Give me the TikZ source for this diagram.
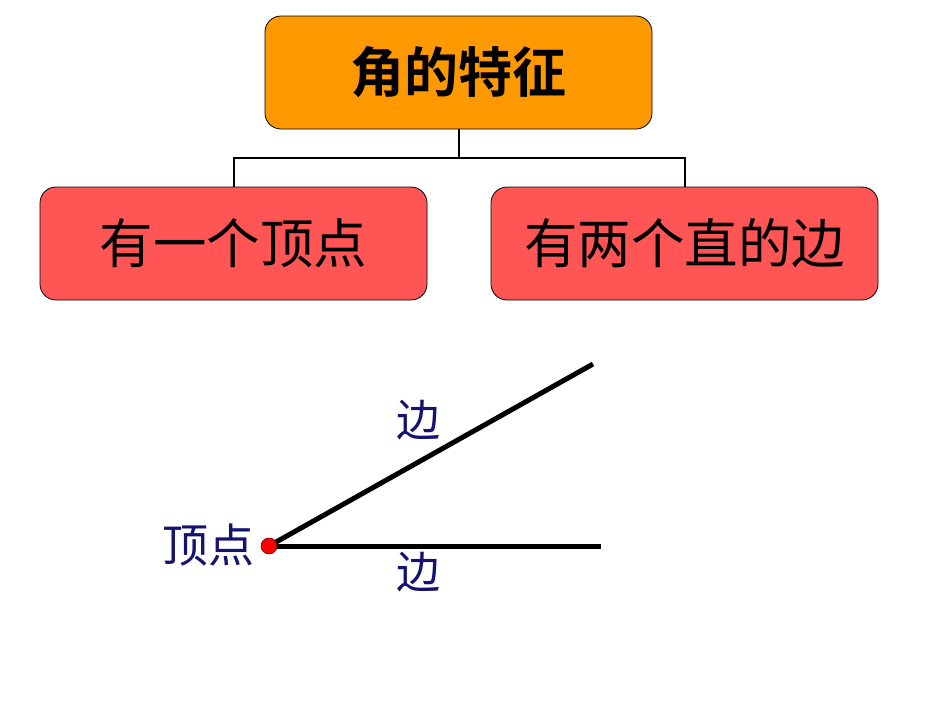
\documentclass[tikz,border=0pt]{standalone}
\usepackage{fontspec}
\newfontfamily\cjk{Noto Sans CJK SC}
\newfontfamily\cjkb{Noto Sans CJK SC Bold}
\definecolor{topfill}{HTML}{FF9900}
\definecolor{subfill}{HTML}{FF5555}
\definecolor{navy}{HTML}{141470}
\begin{document}
\begin{tikzpicture}[x=1pt,y=-1pt,
  topbox/.style={draw=black, line width=0.8pt, fill=topfill, rounded corners=16pt, minimum width=387pt, minimum height=113pt, inner sep=0pt},
  subbox/.style={draw=black, line width=0.8pt, fill=subfill, rounded corners=16pt, minimum width=387pt, minimum height=113pt, inner sep=0pt},
  conn/.style={draw=black, line width=2pt},
  ray/.style={draw=black, line width=5pt},
  lbl/.style={text=navy, inner sep=0pt, font=\cjk\fontsize{46}{46}\selectfont}]
\useasboundingbox (0,0) rectangle (950,713);
\fill[white] (0,0) rectangle (950,713);
\node[topbox] (top) at (458.5,72.5) {\cjkb\fontsize{54}{54}\selectfont 角的特征};
\node[subbox] (left) at (233.5,243.5) {\cjk\fontsize{53.5}{53.5}\selectfont 有一个顶点};
\node[subbox] (right) at (684.5,243.5) {\cjk\fontsize{53.5}{53.5}\selectfont 有两个直的边};
\coordinate (mid) at (458.5,158);
\draw[conn] (top.south) -- (mid) -| (left.north);
\draw[conn] (mid) -| (right.north);
\coordinate (v) at (269,546);
\coordinate (e1) at (593,364);
\coordinate (e2) at (601,546);
\draw[ray] (v) -- (e1);
\draw[ray] (v) -- (e2);
\node[circle, fill=red, draw=black!60!red, line width=0.6pt, minimum size=16pt, inner sep=0pt] (vd) at (v) {};
\node[lbl] (lv) at (208,545) {顶点};
\node[lbl, font=\cjk\fontsize{44}{44}\selectfont] (l1) at (418,420) {边};
\node[lbl, font=\cjk\fontsize{44}{44}\selectfont] (l2) at (418,572) {边};
\end{tikzpicture}
\end{document}
